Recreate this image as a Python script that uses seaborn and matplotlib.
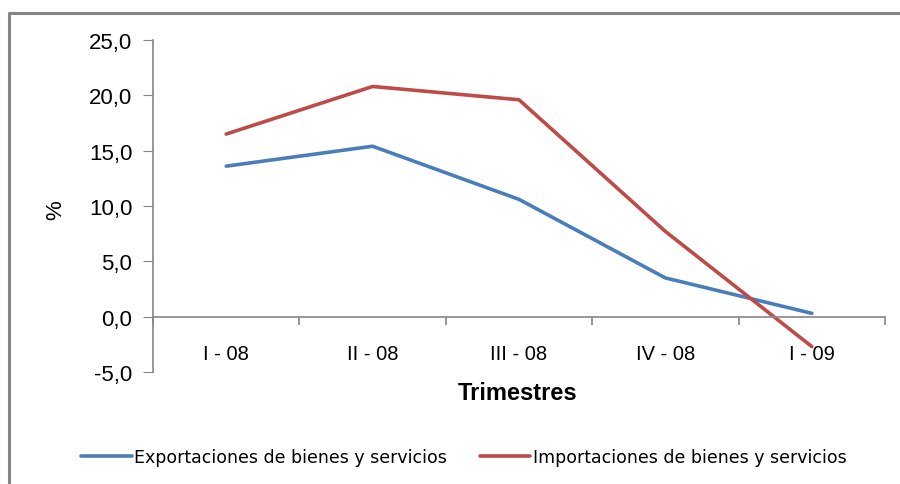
import numpy as np
import pandas as pd
import matplotlib
matplotlib.use("Agg")
import matplotlib.pyplot as plt
from matplotlib.ticker import FuncFormatter, FixedLocator
import seaborn as sns

trimestres = ["I - 08", "II - 08", "III - 08", "IV - 08", "I - 09"]
exportaciones = [13.6, 15.4, 10.6, 3.5, 0.3]
importaciones = [16.5, 20.8, 19.6, 7.7, -2.7]
serie_exp = "Exportaciones de bienes y servicios"
serie_imp = "Importaciones de bienes y servicios"

df = pd.DataFrame({
    "x": list(range(len(trimestres))) * 2,
    "valor": exportaciones + importaciones,
    "serie": [serie_exp] * len(trimestres) + [serie_imp] * len(trimestres),
})

sns.set_style("white")
plt.rcParams["font.family"] = ["Liberation Sans", "DejaVu Sans"]
plt.rcParams["text.color"] = "black"

fig = plt.figure(figsize=(9, 4.85), dpi=100)
ax = fig.add_axes([153 / 900, 1 - 373 / 485, (885 - 153) / 900, (373 - 41) / 485])

sns.lineplot(data=df, x="x", y="valor", hue="serie",
             palette=["#4A7EBB", "#BE4B48"], linewidth=2.6, ax=ax, legend=False)

gray = "#868686"
ax.set_xlim(-0.5, len(trimestres) - 0.5)
ax.set_ylim(-5, 25)
ax.set_yticks(np.arange(-5, 26, 5))
ax.yaxis.set_major_formatter(FuncFormatter(lambda v, p: f"{v:.1f}".replace(".", ",")))
ax.tick_params(axis="y", which="major", left=True, length=7, color=gray,
               labelsize=16, pad=8, labelcolor="black")

ax.spines["top"].set_visible(False)
ax.spines["right"].set_visible(False)
ax.spines["left"].set_color(gray)
ax.spines["bottom"].set_color(gray)
ax.spines["bottom"].set_position(("data", 0))
ax.spines["left"].set_linewidth(1.2)
ax.spines["bottom"].set_linewidth(1.2)

ax.set_xticks(range(len(trimestres)))
ax.set_xticklabels(trimestres)
ax.xaxis.set_minor_locator(FixedLocator(np.arange(-0.5, len(trimestres), 1.0)))
ax.tick_params(axis="x", which="major", bottom=True, length=0, labelsize=14.5, pad=20,
               labelcolor="black")
ax.tick_params(axis="x", which="minor", bottom=True, length=6, color=gray, width=1.2)

ax.set_xlabel("")
ax.set_ylabel("")
fig.text(518 / 900, 1 - 394 / 485, "Trimestres", ha="center", va="center",
         fontsize=17, fontweight="bold", color="black")
fig.text(56 / 900, 1 - 210 / 485, "%", ha="center", va="center",
         rotation=90, fontsize=16, color="black")

# marco exterior del grafico
fig.add_artist(plt.Line2D([9 / 900, 9 / 900], [0, 1 - 14 / 485],
                          transform=fig.transFigure, color=gray, linewidth=2.2))
fig.add_artist(plt.Line2D([9 / 900, 1], [1 - 14 / 485, 1 - 14 / 485],
                          transform=fig.transFigure, color=gray, linewidth=2.2))

handles = [plt.Line2D([], [], color="#4A7EBB", linewidth=2.6),
           plt.Line2D([], [], color="#BE4B48", linewidth=2.6)]
fig.legend(handles, [serie_exp, serie_imp], loc="center",
           bbox_to_anchor=(464 / 900, 1 - 458 / 485), ncol=2, frameon=False,
           prop={"family": "DejaVu Sans", "size": 12.5}, labelcolor="black",
           handlelength=2.9, handletextpad=0.15, columnspacing=1.9)

fig.savefig("out.png", dpi=100)
